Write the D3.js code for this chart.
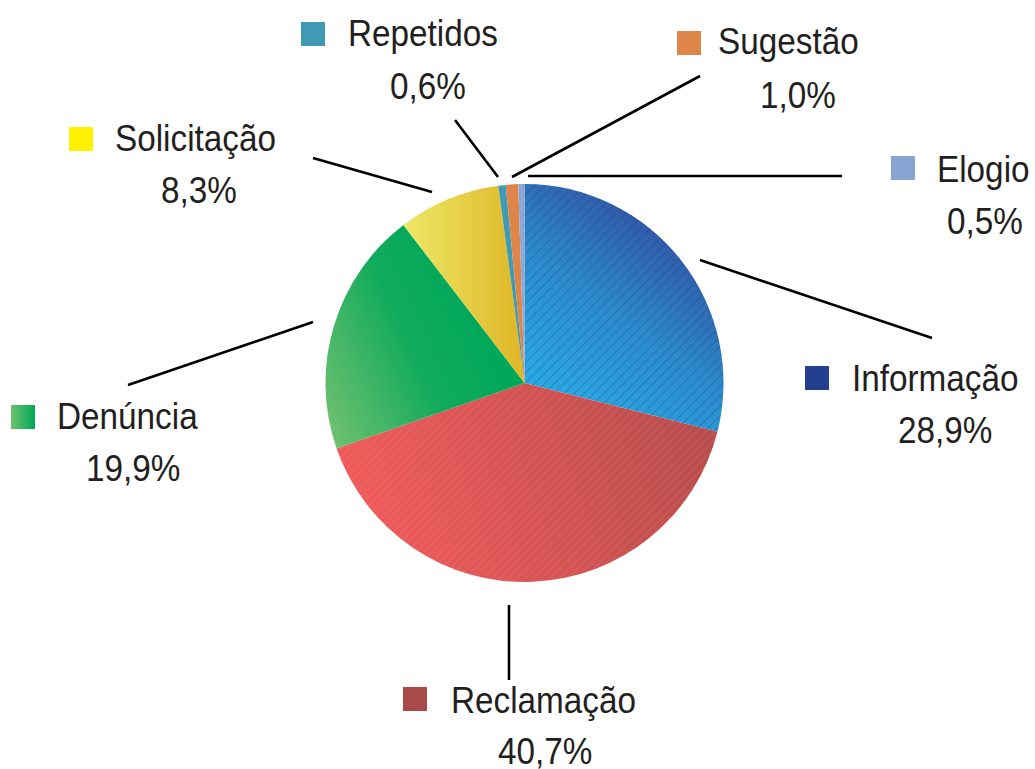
<!DOCTYPE html>
<html><head><meta charset="utf-8">
<script src="https://cdn.jsdelivr.net/npm/d3@7"></script>
<style>html,body{margin:0;padding:0;background:#fff;}svg{display:block;}</style>
</head><body>
<script>
// ---- data ----
const categories = ["Informação","Reclamação","Denúncia","Solicitação","Repetidos","Sugestão","Elogio"];
const values = [28.9, 40.7, 19.9, 8.3, 0.6, 1.0, 0.5];
const valueLabels = ["28,9%","40,7%","19,9%","8,3%","0,6%","1,0%","0,5%"];

// ---- layout / styles ----
const W = 1035, H = 769;
const cx = 524.5, cy = 383, R = 199;
const swatchColors = {"Informação":"#253f8f","Reclamação":"#a94a4a","Denúncia":"url(#sw-den)","Solicitação":"#fff200","Repetidos":"#3f9bb3","Sugestão":"#de864a","Elogio":"#86a3d2"};
const sliceFills = {"Informação":"url(#g-inf)","Reclamação":"url(#g-rec)","Denúncia":"url(#g-den)","Solicitação":"url(#g-sol)","Repetidos":"#3f9bb3","Sugestão":"#de864a","Elogio":"#8ea8d6"};
const hatch = {"Informação":"url(#h-dark)","Reclamação":"url(#h-light)","Denúncia":"url(#h-green)"};
const layout = {
  "Informação": {sx:805, sy:366, tx:852, ty:391, px:898, py:443, line:[[700,260],[932,338]]},
  "Reclamação": {sx:403, sy:687, tx:451, ty:713, px:498, py:764, line:[[509,605],[509,680]]},
  "Denúncia":   {sx:11,  sy:405, tx:57,  ty:429, px:86,  py:481, line:[[313,322],[128,385]]},
  "Solicitação":{sx:69,  sy:127, tx:115, ty:151, px:161, py:203, line:[[432,192],[313,158]]},
  "Repetidos":  {sx:301, sy:22,  tx:348, ty:46,  px:390, py:99,  line:[[498,177],[455,120]]},
  "Sugestão":   {sx:677, sy:31,  tx:718, ty:54,  px:760, py:108, line:[[512,177],[700,76]]},
  "Elogio":     {sx:891, sy:156, tx:937, ty:182, px:947, py:234, line:[[528,176],[842,176]]}
};
const FONT = "'Liberation Sans', Arial, sans-serif";
const FS = 37, SX = 0.9, SW = 24;

const svg = d3.select("body").append("svg").attr("width", W).attr("height", H);
const defs = svg.append("defs");

function lin(id, x1,y1,x2,y2, stops, units){
  const g = defs.append("linearGradient").attr("id", id)
    .attr("x1",x1).attr("y1",y1).attr("x2",x2).attr("y2",y2);
  if (units) g.attr("gradientUnits", units);
  stops.forEach(s => g.append("stop").attr("offset", s[0]).attr("stop-color", s[1]));
}
lin("g-inf", 0, 60, 170, -170, [[0,"#2ab8ef"],[0.55,"#2c8bcc"],[1,"#33479a"]], "userSpaceOnUse");
lin("g-rec", -170, 150, 190, 20, [[0,"#f25c5c"],[1,"#b54d4c"]], "userSpaceOnUse");
lin("g-den", -200, 40, -30, -40, [[0,"#71c071"],[0.6,"#11ab5c"],[1,"#00a85a"]], "userSpaceOnUse");
lin("g-sol", -120, 0, -5, 0, [[0,"#ede766"],[1,"#dfb828"]], "userSpaceOnUse");
lin("sw-den", "0%","0%","100%","0%", [[0,"#6ec06c"],[1,"#00a85a"]]);

function hatchPat(id, color, op, gap){
  const p = defs.append("pattern").attr("id", id).attr("patternUnits","userSpaceOnUse")
    .attr("width", gap).attr("height", gap).attr("patternTransform","rotate(45)");
  p.append("line").attr("x1",0).attr("y1",0).attr("x2",0).attr("y2",gap)
    .attr("stroke", color).attr("stroke-width", 1).attr("stroke-opacity", op);
}
hatchPat("h-dark", "#163a80", 0.6, 7);
hatchPat("h-light", "#ff9f9f", 0.3, 6);
hatchPat("h-green", "#0a8a4a", 0.15, 5);

const pie = d3.pie().sort(null).value(d => d.v);
const arcs = pie(categories.map((c,i) => ({c, v: values[i], l: valueLabels[i]})));
const arc = d3.arc().innerRadius(0).outerRadius(R);

const gp = svg.append("g").attr("transform", `translate(${cx},${cy})`);
gp.selectAll("path.slice").data(arcs).join("path").attr("class","slice")
  .attr("d", arc).attr("fill", d => sliceFills[d.data.c]);
gp.selectAll("path.hatch").data(arcs.filter(d => hatch[d.data.c])).join("path").attr("class","hatch")
  .attr("d", arc).attr("fill", d => hatch[d.data.c]);

// leader lines
svg.append("g").selectAll("line").data(arcs).join("line")
  .attr("x1", d => layout[d.data.c].line[0][0]).attr("y1", d => layout[d.data.c].line[0][1])
  .attr("x2", d => layout[d.data.c].line[1][0]).attr("y2", d => layout[d.data.c].line[1][1])
  .attr("stroke", "#000").attr("stroke-width", 2.6);

// labels
const lg = svg.append("g").selectAll("g").data(arcs).join("g");
lg.append("rect").attr("x", d => layout[d.data.c].sx).attr("y", d => layout[d.data.c].sy)
  .attr("width", SW).attr("height", SW).attr("fill", d => swatchColors[d.data.c]);
lg.append("text").attr("transform", d => `translate(${layout[d.data.c].tx},${layout[d.data.c].ty}) scale(${SX},1)`)
  .attr("font-family", FONT).attr("font-size", FS).attr("fill", "#231f20").text(d => d.data.c);
lg.append("text").attr("transform", d => `translate(${layout[d.data.c].px},${layout[d.data.c].py}) scale(${SX},1)`)
  .attr("font-family", FONT).attr("font-size", FS).attr("fill", "#231f20").text(d => d.data.l);
</script>
</body></html>
